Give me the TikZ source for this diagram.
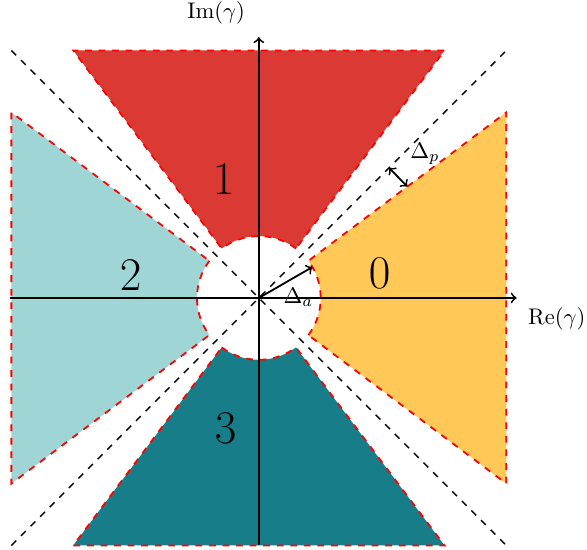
\documentclass[tikz,border=0pt]{standalone}
\usepackage{amsmath}
\usepackage{tikz}
\usetikzlibrary{arrows, calc}

\definecolor{secyellow}{HTML}{FFC857}
\definecolor{secred}{HTML}{DB3A34}
\definecolor{seclight}{HTML}{9FD6D5}
\definecolor{secdark}{HTML}{177E89}

\tikzset{
  sector/.style={draw=red, thick, dashed},
  guide/.style={semithick, dashed},
  axis/.style={thick, ->},
  seclabel/.style={font=\huge},
}

\begin{document}
\begin{tikzpicture}[x=0.77cm,y=0.77cm]
\useasboundingbox (-5.23,-5.09) rectangle (6.63,6.02);
  % the four sectors, outside the disc
  \foreach \k/\col in {0/secyellow, 1/secred, 2/seclight, 3/secdark}
  {
    \begin{scope}[rotate=90*\k]
      \filldraw[sector, fill=\col] (-36.87:1.25)
        arc[start angle=-36.87, end angle=36.87, radius=1.25]
        -- (5,3.75) -- (5,-3.75) -- cycle;
    \end{scope}
  }
  % diagonals
  \coordinate (O) at (0,0);
  \coordinate (ne) at (5,5);
  \coordinate (sw) at (-5,-5);
  \coordinate (nw) at (-5,5);
  \coordinate (se) at (5,-5);
  \draw[guide] (sw) -- (ne);
  \draw[guide] (nw) -- (se);
  % axes
  \coordinate (xl) at (-5.03,0);
  \coordinate (xr) at (5.21,0);
  \coordinate (yb) at (0,-5);
  \coordinate (yt) at (0,5.27);
  \draw[axis] (xl) -- (xr);
  \draw[axis] (yb) -- (yt);
  \node[anchor=south east] (imlabel) at (-0.12,5.37) {$\mathrm{Im}(\gamma)$};
  \node[anchor=north west] (relabel) at (5.28,-0.03) {$\mathrm{Re}(\gamma)$};
  % sector numbers
  \node[seclabel] (lab0) at (2.44,0.5) {$0$};
  \node[seclabel] (lab1) at (-0.71,2.39) {$1$};
  \node[seclabel] (lab2) at (-2.59,0.46) {$2$};
  \node[seclabel] (lab3) at (-0.67,-2.63) {$3$};
  % radius and gap
  \coordinate (rim) at (30:1.25);
  \draw[thick,->] (O) -- (rim)
    node[below=2pt,pos=.74] {$\Delta_a$};
  \coordinate (pa) at (2.63,2.63);
  \coordinate (pb) at (3.0,2.25);
  \draw[thick,<->] (pa) -- (pb)
    node[above right=5pt,pos=.5,inner sep=0pt] {$\Delta_p$};
\end{tikzpicture}
\end{document}
